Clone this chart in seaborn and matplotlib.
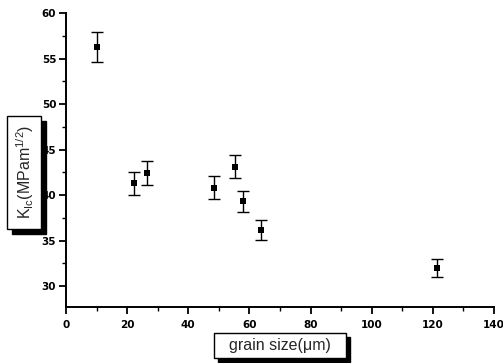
import matplotlib
matplotlib.use("Agg")
import matplotlib.pyplot as plt
import seaborn as sns
import pandas as pd
from matplotlib.patches import Rectangle
from matplotlib.ticker import MultipleLocator

grain_size = [10.0, 22.1, 26.6, 48.4, 55.2, 57.8, 63.8, 121.3]
kic = [56.3, 41.3, 42.4, 40.8, 43.1, 39.3, 36.2, 32.0]
kic_err = [1.65, 1.25, 1.3, 1.25, 1.25, 1.15, 1.1, 0.95]

df = pd.DataFrame({"grain": grain_size, "kic": kic, "err": kic_err})

sns.set_style("white")
plt.rcParams['font.family'] = ['Liberation Sans', 'DejaVu Sans']

fig = plt.figure(figsize=(5.03, 3.63), dpi=100)
ax = fig.add_axes([66/503, 1-307/363, (494-66)/503, (307-13)/363])

ax.errorbar(df["grain"], df["kic"], yerr=df["err"], fmt='none', ecolor='black',
            elinewidth=1.0, capsize=4, capthick=1.0, zorder=2)
sns.scatterplot(data=df, x="grain", y="kic", marker='s', color='black', s=22,
                edgecolor='black', linewidth=0, ax=ax, zorder=3)

ax.set_xlim(0, 140)
ax.set_ylim(27.7, 60)
ax.xaxis.set_major_locator(MultipleLocator(20))
ax.xaxis.set_minor_locator(MultipleLocator(10))
ax.yaxis.set_major_locator(MultipleLocator(5))
ax.yaxis.set_minor_locator(MultipleLocator(2.5))
ax.set_yticks([30, 35, 40, 45, 50, 55, 60])
ax.set_xlabel("")
ax.set_ylabel("")
for s in ["top", "right"]:
    ax.spines[s].set_visible(False)
for s in ["left", "bottom"]:
    ax.spines[s].set_linewidth(1.4)
    ax.spines[s].set_color('black')
ax.tick_params(which='major', direction='out', length=5, width=1.3, colors='black',
               labelsize=7.5)
ax.tick_params(which='minor', direction='out', length=3, width=1.0, colors='black')
ax.tick_params(axis='x', which='major', pad=4)
ax.tick_params(axis='y', which='major', pad=2)
ax.tick_params(axis='both', which='both', bottom=True, left=True)
for lbl in ax.get_xticklabels() + ax.get_yticklabels():
    lbl.set_fontweight('bold')
    lbl.set_fontfamily('DejaVu Sans')

W, H = 503, 363
def boxed(x0, y0, x1, y1, sh):
    # y in image pixel coords (top origin)
    fig.add_artist(Rectangle(((x0+sh)/W, 1-(y1+sh)/H), (x1-x0)/W, (y1-y0)/H,
                             transform=fig.transFigure, facecolor='black',
                             edgecolor='black', zorder=5))
    fig.add_artist(Rectangle((x0/W, 1-y1/H), (x1-x0)/W, (y1-y0)/H,
                             transform=fig.transFigure, facecolor='white',
                             edgecolor='black', linewidth=1.0, zorder=6))

boxed(7, 116, 41, 229, 5)
fig.text(25/W, 1-172/H, r"K$_{\mathregular{Ic}}$(MPam$^{\mathregular{1/2}}$)", rotation=90,
         ha='center', va='center', fontsize=11.5, zorder=7)

boxed(214, 333, 346, 358, 4)
fig.text(280/W, 1-345.5/H, "grain size(μm)", ha='center', va='center', fontsize=11.5, zorder=7)

fig.savefig("out.png", dpi=100)
